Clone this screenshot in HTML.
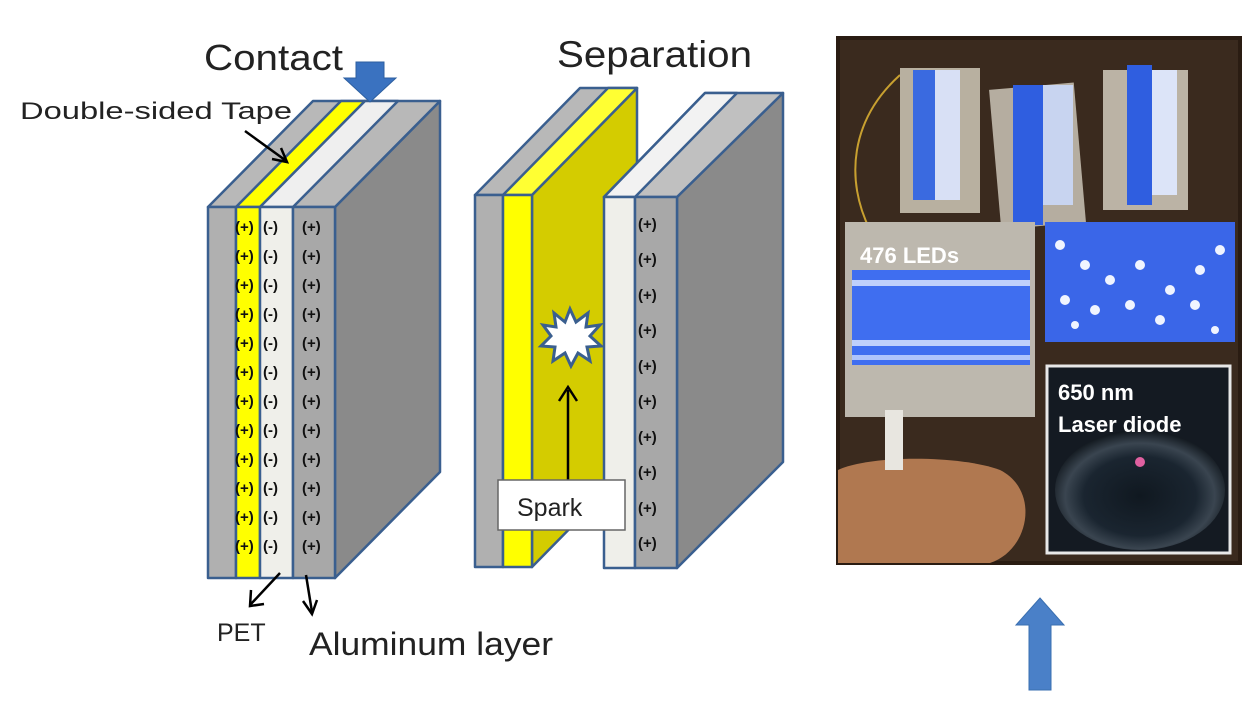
<!DOCTYPE html>
<html><head><meta charset="utf-8"><style>
html,body{margin:0;padding:0;background:#fff;}
svg{display:block;}
text{font-family:"Liberation Sans",sans-serif;}
</style></head><body>
<svg width="1256" height="701" viewBox="0 0 1256 701" xmlns="http://www.w3.org/2000/svg">
<defs>
<radialGradient id="lens" cx="50%" cy="55%" r="55%"><stop offset="0" stop-color="#101820"/><stop offset="0.6" stop-color="#1a2530"/><stop offset="0.8" stop-color="#3a4550"/><stop offset="1" stop-color="#10161c"/></radialGradient>
</defs>
<g stroke="#3a5f8f" stroke-width="2.5" stroke-linejoin="round">
<polygon points="335,207 440,101 440,472 335,578" fill="#8a8a8a"/>
<polygon points="208,207 313,101 440,101 335,207" fill="#b8b8b8"/>
<polygon points="236,207 341,101 365,101 260,207" fill="#ffff00"/>
<polygon points="260,207 365,101 398,101 293,207" fill="#efefef"/>
<rect x="208" y="207" width="28" height="371" fill="#b0b0b0"/>
<rect x="236" y="207" width="24" height="371" fill="#ffff00"/>
<rect x="260" y="207" width="33" height="371" fill="#efefea"/>
<rect x="293" y="207" width="42" height="371" fill="#a8a8a8"/>
<polygon points="532,195 637,88 637,460 532,567" fill="#d4cc00"/>
<polygon points="475,195 580,88 637,88 532,195" fill="#b8b8b8"/>
<polygon points="503,195 608,88 637,88 532,195" fill="#ffff33"/>
<rect x="475" y="195" width="28" height="372" fill="#b0b0b0"/>
<rect x="503" y="195" width="29" height="372" fill="#ffff00"/>
<polygon points="677,197 783,93 783,462 677,568" fill="#8a8a8a"/>
<polygon points="604,197 705,93 783,93 677,197" fill="#c0c0c0"/>
<polygon points="604,197 705,93 737,93 635,197" fill="#f2f2f2"/>
<rect x="604" y="197" width="31" height="371" fill="#efefea"/>
<rect x="635" y="197" width="42" height="371" fill="#a8a8a8"/>
</g>
<g font-size="15" font-weight="bold" fill="#111">
<text x="235" y="232">(+)</text><text x="235" y="261">(+)</text><text x="235" y="290">(+)</text><text x="235" y="319">(+)</text><text x="235" y="348">(+)</text><text x="235" y="377">(+)</text><text x="235" y="406">(+)</text><text x="235" y="435">(+)</text><text x="235" y="464">(+)</text><text x="235" y="493">(+)</text><text x="235" y="522">(+)</text><text x="235" y="551">(+)</text>
<text x="263" y="232">(-)</text><text x="263" y="261">(-)</text><text x="263" y="290">(-)</text><text x="263" y="319">(-)</text><text x="263" y="348">(-)</text><text x="263" y="377">(-)</text><text x="263" y="406">(-)</text><text x="263" y="435">(-)</text><text x="263" y="464">(-)</text><text x="263" y="493">(-)</text><text x="263" y="522">(-)</text><text x="263" y="551">(-)</text>
<text x="302" y="232">(+)</text><text x="302" y="261">(+)</text><text x="302" y="290">(+)</text><text x="302" y="319">(+)</text><text x="302" y="348">(+)</text><text x="302" y="377">(+)</text><text x="302" y="406">(+)</text><text x="302" y="435">(+)</text><text x="302" y="464">(+)</text><text x="302" y="493">(+)</text><text x="302" y="522">(+)</text><text x="302" y="551">(+)</text>
<text x="638" y="229">(+)</text><text x="638" y="264">(+)</text><text x="638" y="300">(+)</text><text x="638" y="335">(+)</text><text x="638" y="371">(+)</text><text x="638" y="406">(+)</text><text x="638" y="442">(+)</text><text x="638" y="477">(+)</text><text x="638" y="513">(+)</text><text x="638" y="548">(+)</text>
</g>
<polygon points="570,309 576,322 588,313 586,327 600,325 590,336 601,346 587,347 590,361 578,353 571,366 565,353 553,361 555,347 541,346 551,336 543,325 556,327 554,313 565,322" fill="#fff" stroke="#3a5f8f" stroke-width="3"/>
<line x1="568" y1="480" x2="568" y2="390" stroke="#000" stroke-width="2.5"/>
<polyline points="559,401 568,387 577,401" fill="none" stroke="#000" stroke-width="2.5"/>
<rect x="498" y="480" width="127" height="50" fill="#fff" stroke="#666" stroke-width="1.5"/>
<text x="517" y="516" font-size="25" fill="#222">Spark</text>
<text x="204" y="70" font-size="36" fill="#222" textLength="139" lengthAdjust="spacingAndGlyphs">Contact</text>
<text x="557" y="67" font-size="37" fill="#222" textLength="195" lengthAdjust="spacingAndGlyphs">Separation</text>
<text x="20" y="119" font-size="24" fill="#222" textLength="272" lengthAdjust="spacingAndGlyphs">Double-sided Tape</text>
<polygon points="356,62 384,62 384,78 396,78 370,102 344,78 356,78" fill="#3a72c0" stroke="#2d5f9f" stroke-width="1"/>
<line x1="245" y1="131" x2="285" y2="160" stroke="#000" stroke-width="2.5"/>
<polyline points="272,159 287,162 281,148" fill="none" stroke="#000" stroke-width="2.5"/>
<line x1="280" y1="573" x2="251" y2="604" stroke="#000" stroke-width="2.5"/>
<polyline points="251,590 250,606 264,604" fill="none" stroke="#000" stroke-width="2.5"/>
<line x1="306" y1="575" x2="312" y2="612" stroke="#000" stroke-width="2.5"/>
<polyline points="303,601 312,614 317,600" fill="none" stroke="#000" stroke-width="2.5"/>
<text x="217" y="641" font-size="25" fill="#222">PET</text>
<text x="309" y="655" font-size="32" fill="#222" textLength="244" lengthAdjust="spacingAndGlyphs">Aluminum layer</text>
<rect x="838" y="38" width="402" height="525" fill="#3a2a1e"/>
<path d="M838,38 H1240 V563 H838Z" fill="none" stroke="#2a1c12" stroke-width="4"/>
<path d="M870,230 C845,180 850,120 900,75" fill="none" stroke="#c8a030" stroke-width="2"/>
<rect x="900" y="68" width="80" height="145" fill="#b8b0a0"/>
<rect x="995" y="86" width="85" height="140" fill="#b5ada0" transform="rotate(-5 1037 156)"/>
<rect x="1103" y="70" width="85" height="140" fill="#bbb3a5"/>
<rect x="913" y="70" width="22" height="130" fill="#3a6ae0"/><rect x="935" y="70" width="25" height="130" fill="#d8e0f5"/>
<rect x="1013" y="85" width="30" height="140" fill="#2f5ee0"/><rect x="1043" y="85" width="30" height="120" fill="#c8d4f0"/>
<rect x="1127" y="65" width="25" height="140" fill="#2f5ee0"/><rect x="1152" y="70" width="25" height="125" fill="#dce4f8"/>
<rect x="845" y="222" width="190" height="195" fill="#bdb8ae"/>
<rect x="852" y="270" width="178" height="95" fill="#3f6ef0"/>
<rect x="852" y="280" width="178" height="6" fill="#e0e8ff" opacity="0.8"/><rect x="852" y="340" width="178" height="6" fill="#e0e8ff" opacity="0.8"/><rect x="852" y="355" width="178" height="5" fill="#e0e8ff" opacity="0.7"/>
<rect x="1045" y="222" width="190" height="120" fill="#3a66e8"/>
<g fill="#f0f4ff"><circle cx="1060" cy="245" r="5"/><circle cx="1085" cy="265" r="5"/><circle cx="1110" cy="280" r="5"/><circle cx="1140" cy="265" r="5"/><circle cx="1170" cy="290" r="5"/><circle cx="1200" cy="270" r="5"/><circle cx="1065" cy="300" r="5"/><circle cx="1095" cy="310" r="5"/><circle cx="1130" cy="305" r="5"/><circle cx="1160" cy="320" r="5"/><circle cx="1195" cy="305" r="5"/><circle cx="1220" cy="250" r="5"/><circle cx="1075" cy="325" r="4"/><circle cx="1215" cy="330" r="4"/></g>
<text x="860" y="263" font-size="22" font-weight="bold" fill="#fff">476 LEDs</text>
<path d="M838,470 C870,455 960,455 1000,470 C1040,490 1030,550 990,563 H838Z" fill="#b07850"/>
<rect x="885" y="410" width="18" height="60" fill="#e8e6e0"/>
<rect x="1047" y="366" width="183" height="187" fill="#141a22" stroke="#e8e8e8" stroke-width="3"/>
<ellipse cx="1140" cy="490" rx="85" ry="60" fill="url(#lens)"/>
<circle cx="1140" cy="462" r="5" fill="#e060a0"/>
<text x="1058" y="400" font-size="22" font-weight="bold" fill="#fff">650 nm</text>
<text x="1058" y="432" font-size="22" font-weight="bold" fill="#fff">Laser diode</text>
<polygon points="1040,598 1064,625 1051,625 1051,690 1029,690 1029,625 1016,625" fill="#4a80c8" stroke="#3a6fb0" stroke-width="1"/>
</svg>
</body></html>
